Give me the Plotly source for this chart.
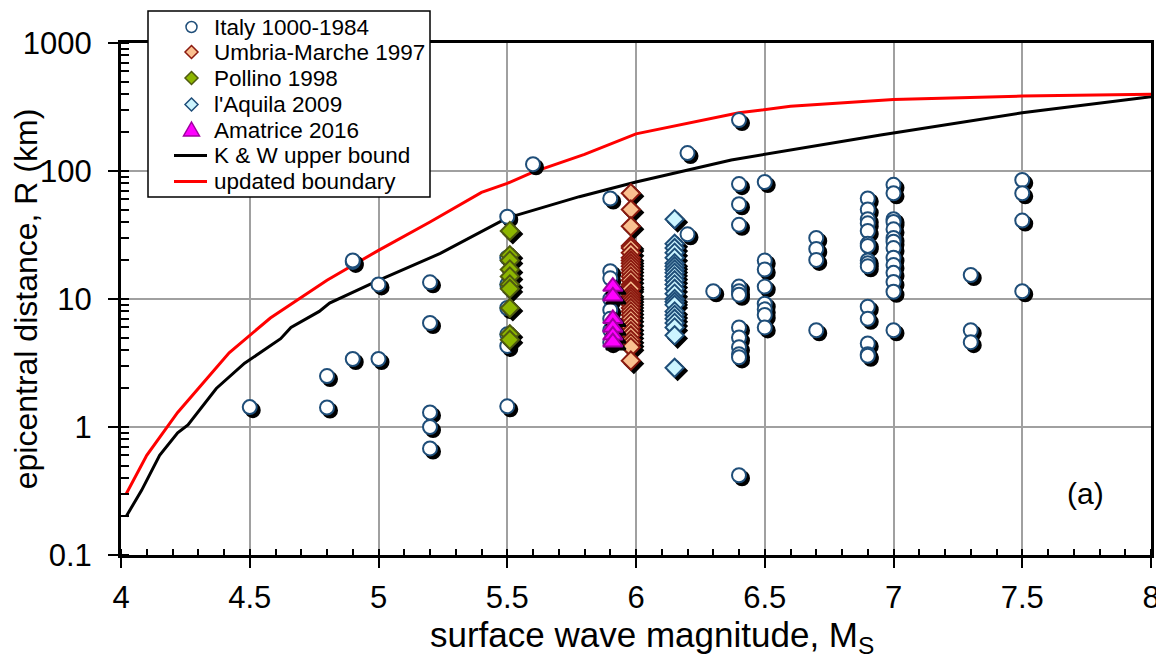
import plotly.graph_objects as go

# Italy 1000-1984 (magnitude, distance)
italy_ms = [4.5, 4.8, 4.8, 4.9, 4.9, 4.9, 5.0, 5.0,
            5.2, 5.2, 5.2, 5.2, 5.2,
            5.5, 5.5, 5.5, 5.5, 5.5, 5.5, 5.5,
            5.6,
            5.9, 5.9, 5.9, 5.9, 5.9, 5.9, 5.9, 5.9,
            6.2, 6.2, 6.3,
            6.4, 6.4, 6.4, 6.4, 6.4, 6.4, 6.4, 6.4, 6.4, 6.4, 6.4, 6.4, 6.4,
            6.5, 6.5, 6.5, 6.5, 6.5, 6.5, 6.5, 6.5,
            6.7, 6.7, 6.7, 6.7,
            6.9, 6.9, 6.9, 6.9, 6.9, 6.9, 6.9, 6.9, 6.9, 6.9, 6.9, 6.9, 6.9, 6.9, 6.9,
            7.0, 7.0, 7.0, 7.0, 7.0, 7.0, 7.0, 7.0, 7.0, 7.0, 7.0, 7.0, 7.0, 7.0,
            7.3, 7.3, 7.3,
            7.5, 7.5, 7.5, 7.5]
italy_r = [1.43, 2.5, 1.42, 19.5, 20, 3.4, 13, 3.4,
           13.5, 6.5, 1.3, 1.0, 0.68,
           44, 21, 13, 8.5, 5.3, 4.3, 1.45,
           113,
           61, 16.5, 14.5, 10, 8.2, 7, 5.7, 4.6,
           138, 32, 11.5,
           250, 79, 55, 38, 12.5, 11.5, 10.8, 6.0, 5.0, 4.2, 3.7, 3.5, 0.42,
           82, 20, 17, 12.5, 9.2, 8.3, 7.5, 6.0,
           30, 24.6, 20.2, 5.7,
           61, 50, 42, 39, 34, 27, 26, 20, 19, 18, 8.7, 7.0, 4.5, 3.7, 3.6,
           78, 67, 42, 40, 35, 30, 28, 25, 21, 18.4, 16, 13.6, 11.4, 5.7,
           15.4, 5.7, 4.6,
           85, 67, 41, 11.5]

# Umbria-Marche 1997
umbria_r = [67, 50, 37, 26, 25, 23, 21, 20, 19, 18, 17, 16, 15, 14, 13, 12.5, 12,
            11, 10.5, 10, 9.5, 9, 8.5, 8, 7.5, 7, 6.5, 6, 5.6, 5.2, 4.8, 4.5, 4.2, 3.3]
umbria_ms = [5.98] * len(umbria_r)

# Pollino 1998
pollino_r = [34, 22, 20, 17, 15, 13, 12, 8.5, 5.3, 4.8]
pollino_ms = [5.51] * len(pollino_r)

# l'Aquila 2009
aquila_r = [42, 27, 25, 23, 21, 19, 18, 17, 16, 15, 14, 13, 12, 11, 10, 9.5, 9,
            8, 7.5, 7, 6.5, 6, 5.2, 2.9]
aquila_ms = [6.15] * len(aquila_r)

# Amatrice 2016
amatrice_r = [12.5, 10.5, 7, 6, 5.2, 4.6]
amatrice_ms = [5.91] * len(amatrice_r)

# K & W upper bound
kw_ms = [4.02, 4.08, 4.15, 4.22, 4.26, 4.37, 4.48, 4.62, 4.66, 4.77, 4.81, 5.0, 5.24,
         5.5, 5.78, 6.0, 6.37, 6.5, 6.79, 6.95, 7.5, 8.0]
kw_r = [0.2, 0.32, 0.6, 0.9, 1.04, 2.0, 3.15, 4.9, 6.0, 8.0, 9.3, 14, 22.7,
        43, 63, 82, 122, 135, 169, 191, 285, 380]

# updated boundary
upd_ms = [4.02, 4.1, 4.22, 4.42, 4.58, 4.8, 5.0, 5.1, 5.2, 5.4, 5.5, 5.6, 5.8,
          6.0, 6.2, 6.4, 6.6, 6.8, 7.0, 7.5, 8.0]
upd_r = [0.3, 0.6, 1.3, 3.8, 7.1, 14, 24, 31, 40, 68, 80, 98, 135,
         195, 235, 285, 320, 342, 362, 385, 398]

y_ticks = [0.1, 1, 10, 100, 1000]
y_ticktext = ["0.1", "1", "10", "100", "1000"]

FONT = "Liberation Sans, Arial, sans-serif"

# shadow offset: ~3 px right / down on this plot size
SH_DX = 0.0117
SH_DY = 0.947

# plot area in window pixels (used for the hand-drawn legend)
PX_L, PX_R, PX_T, PX_B = 121, 1151, 43, 555


def px(xp):
    return (xp - PX_L) / (PX_R - PX_L)


def py(yp):
    return (PX_B - yp) / (PX_B - PX_T)


fig = go.Figure()

fig.add_trace(go.Scatter(x=kw_ms, y=kw_r, mode="lines", name="K & W upper bound",
                         line=dict(color="black", width=3)))
fig.add_trace(go.Scatter(x=upd_ms, y=upd_r, mode="lines", name="updated boundary",
                         line=dict(color="#FF0000", width=3)))

series = [
    ("Italy 1000-1984", italy_ms, italy_r, "circle", 14, "white", "#1F4E79"),
    ("Umbria-Marche 1997", umbria_ms, umbria_r, "diamond", 14, "#FAC090", "#8B1A10"),
    ("Pollino 1998", pollino_ms, pollino_r, "diamond", 14, "#8DB600", "#4F5A10"),
    ("l'Aquila 2009", aquila_ms, aquila_r, "diamond", 14, "#CCF5FF", "#1F4E79"),
    ("Amatrice 2016", amatrice_ms, amatrice_r, "triangle-up", 17, "#FF00FF", "#A000A0"),
]

for name, xs, ys, sym, size, fill, edge in series:
    # black drop shadow
    fig.add_trace(go.Scatter(
        x=[v + SH_DX for v in xs], y=[v * SH_DY for v in ys], mode="markers",
        marker=dict(symbol=sym, size=size, color="black", line=dict(color="black", width=2)),
        hoverinfo="skip"))
    fig.add_trace(go.Scatter(
        x=xs, y=ys, mode="markers", name=name,
        marker=dict(symbol=sym, size=size, color=fill, line=dict(color=edge, width=2))))

# legend drawn by hand (Excel-style tight rows)
shapes = [dict(type="rect", xref="paper", yref="paper", layer="above",
               x0=px(148), x1=px(430), y0=py(197), y1=py(11),
               fillcolor="white", line=dict(color="black", width=1.5))]
rows = [27, 52, 78, 104.5, 130, 155.5, 181.5]
sx, tx = 191.5, 212
for (name, _, _, sym, _, fill, edge), ry in zip(series, rows):
    if sym == "circle":
        shapes.append(dict(type="circle", xref="paper", yref="paper", layer="above",
                           x0=px(sx - 5.5), x1=px(sx + 5.5), y0=py(ry + 5.5), y1=py(ry - 5.5),
                           fillcolor=fill, line=dict(color=edge, width=1.5)))
    elif sym == "diamond":
        pts = [(sx, ry - 6.5), (sx + 6.5, ry), (sx, ry + 6.5), (sx - 6.5, ry)]
        path = "M" + " L".join(f"{px(a):.5f},{py(b):.5f}" for a, b in pts) + " Z"
        shapes.append(dict(type="path", xref="paper", yref="paper", layer="above", path=path,
                           fillcolor=fill, line=dict(color=edge, width=1.5)))
    else:
        pts = [(sx, ry - 8), (sx + 8, ry + 6), (sx - 8, ry + 6)]
        path = "M" + " L".join(f"{px(a):.5f},{py(b):.5f}" for a, b in pts) + " Z"
        shapes.append(dict(type="path", xref="paper", yref="paper", layer="above", path=path,
                           fillcolor=fill, line=dict(color=edge, width=1.5)))
    fig.add_annotation(xref="paper", yref="paper", x=px(tx), y=py(ry), xanchor="left",
                       yanchor="middle", text=name, showarrow=False,
                       font=dict(size=22.5, color="black", family=FONT))

for name, color, ry in [("K & W upper bound", "black", rows[5]),
                        ("updated boundary", "#FF0000", rows[6])]:
    shapes.append(dict(type="line", xref="paper", yref="paper", layer="above",
                       x0=px(174), x1=px(207), y0=py(ry), y1=py(ry),
                       line=dict(color=color, width=3)))
    fig.add_annotation(xref="paper", yref="paper", x=px(tx), y=py(ry), xanchor="left",
                       yanchor="middle", text=name, showarrow=False,
                       font=dict(size=22.5, color="black", family=FONT))

# log axis: annotation y is log10 of the value
fig.add_annotation(x=7.745, y=-0.52, text="(a)", showarrow=False,
                   font=dict(size=30, color="black", family=FONT))

# x title placed like the reference (slightly right of plot centre)
fig.add_annotation(xref="paper", yref="paper", x=px(652), y=py(637), xanchor="center",
                   yanchor="middle", text="surface wave magnitude, M<sub>S</sub>",
                   showarrow=False, font=dict(size=35, color="black", family=FONT))

# page body has an 8px margin, so the figure is 8px smaller than the window
fig.update_layout(
    width=1156, height=655,
    margin=dict(l=113, r=13, t=35, b=108, autoexpand=False),
    plot_bgcolor="white", paper_bgcolor="white",
    font=dict(family=FONT, color="black", size=31),
    showlegend=False,
    shapes=shapes,
    xaxis=dict(
        range=[4, 8], dtick=0.5, tick0=4, automargin=False,
        showline=True, linecolor="black", linewidth=3, mirror=True,
        showgrid=True, gridcolor="#A0A0A0", gridwidth=1.5, zeroline=False,
        ticks="outside", ticklen=10, tickwidth=1.5, tickcolor="black",
        ticklabelstandoff=3,
        minor=dict(dtick=0.1, ticks="inside", ticklen=6, tickwidth=1.5, tickcolor="black", showgrid=False),
        tickfont=dict(size=31),
    ),
    yaxis=dict(
        type="log", range=[-1, 3], automargin=False,
        tickmode="array", tickvals=y_ticks, ticktext=y_ticktext,
        showline=True, linecolor="black", linewidth=3, mirror=True,
        showgrid=True, gridcolor="#A0A0A0", gridwidth=1.5, zeroline=False,
        ticks="outside", ticklen=10, tickwidth=1.5, tickcolor="black",
        ticklabelstandoff=10,
        minor=dict(dtick="D1", ticks="inside", ticklen=8, tickwidth=1.5, tickcolor="black", showgrid=False),
        tickfont=dict(size=31),
        title=dict(text="epicentral distance, R (km)", font=dict(size=32), standoff=0),
    ),
)

fig.write_html("out.html")
